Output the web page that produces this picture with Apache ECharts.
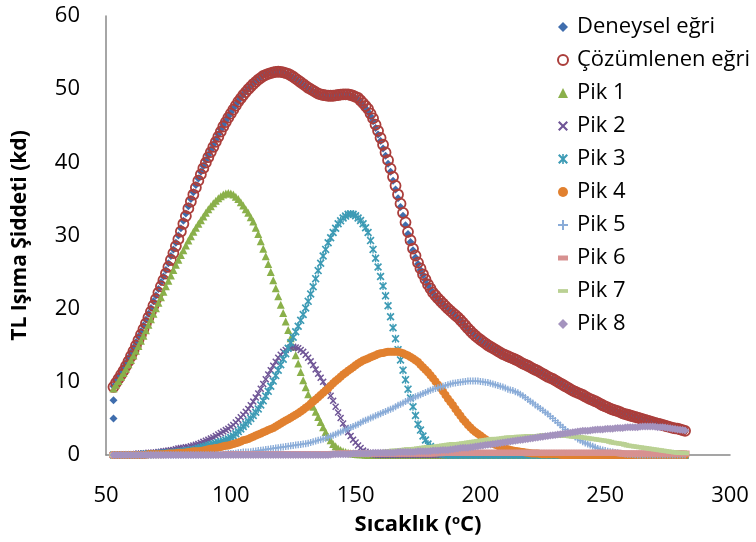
<!DOCTYPE html>
<html><head><meta charset="utf-8">
<script src="https://cdn.jsdelivr.net/npm/echarts@6/dist/echarts.min.js"></script>
<style>html,body{margin:0;padding:0;background:#fff}#c{width:756px;height:542px}</style>
</head><body><div id="c"></div>
<script>
const T = [53,54,55,56,57,58,59,60,61,62,
63,64,65,66,67,68,69,70,71,72,
73,74,75,76,77,78,79,80,81,82,
83,84,85,86,87,88,89,90,91,92,
93,94,95,96,97,98,99,100,101,102,
103,104,105,106,107,108,109,110,111,112,
113,114,115,116,117,118,119,120,121,122,
123,124,125,126,127,128,129,130,131,132,
133,134,135,136,137,138,139,140,141,142,
143,144,145,146,147,148,149,150,151,152,
153,154,155,156,157,158,159,160,161,162,
163,164,165,166,167,168,169,170,171,172,
173,174,175,176,177,178,179,180,181,182,
183,184,185,186,187,188,189,190,191,192,
193,194,195,196,197,198,199,200,201,202,
203,204,205,206,207,208,209,210,211,212,
213,214,215,216,217,218,219,220,221,222,
223,224,225,226,227,228,229,230,231,232,
233,234,235,236,237,238,239,240,241,242,
243,244,245,246,247,248,249,250,251,252,
253,254,255,256,257,258,259,260,261,262,
263,264,265,266,267,268,269,270,271,272,
273,274,275,276,277,278,279,280,281,282];

const expExtraT = [53, 53];
const expExtraV = [5.0, 7.5];

const expV = [9.4,10.2,10.8,11.4,12.0,12.6,13.3,14.0,14.7,15.4,
16.2,16.9,17.7,18.5,19.3,20.1,21.0,21.8,22.7,23.6,
24.4,25.3,26.2,27.2,28.1,29.0,30.0,31.0,32.0,33.0,
34.0,35.0,35.9,36.9,37.8,38.7,39.5,40.3,41.0,41.7,
42.4,43.1,43.8,44.5,45.1,45.7,46.3,46.8,47.4,47.9,
48.4,48.9,49.3,49.7,50.1,50.4,50.8,51.1,51.4,51.6,
51.9,52.0,52.2,52.2,52.3,52.3,52.3,52.3,52.2,52.1,
52.0,51.8,51.6,51.4,51.1,50.9,50.6,50.4,50.1,49.9,
49.7,49.5,49.4,49.2,49.2,49.1,49.0,49.0,49.0,49.1,
49.1,49.2,49.2,49.2,49.2,49.1,49.0,48.8,48.6,48.2,
47.8,47.4,46.9,46.3,45.6,44.7,43.8,42.9,41.9,40.9,
39.8,38.7,37.5,36.3,35.1,33.9,32.7,31.4,30.2,29.1,
28.0,27.0,26.1,25.3,24.6,23.9,23.2,22.6,22.1,21.7,
21.3,21.0,20.6,20.3,20.0,19.7,19.4,19.0,18.7,18.4,
18.0,17.6,17.2,16.9,16.6,16.3,16.0,15.7,15.4,15.2,
15.0,14.8,14.6,14.4,14.2,14.0,13.8,13.6,13.4,13.3,
13.1,13.0,12.8,12.7,12.5,12.3,12.1,12.0,11.8,11.6,
11.4,11.3,11.1,10.9,10.7,10.5,10.3,10.2,10.0,9.8,
9.6,9.4,9.2,9.0,8.8,8.6,8.5,8.3,8.1,8.0,
7.8,7.6,7.5,7.3,7.1,7.0,6.8,6.6,6.5,6.3,
6.2,6.1,5.9,5.8,5.7,5.6,5.5,5.4,5.3,5.2,
5.1,5.0,4.9,4.8,4.7,4.6,4.5,4.4,4.3,4.2,
4.1,4.0,3.9,3.8,3.7,3.6,3.5,3.5,3.4,3.3];

const fitV = [9.3,9.85,10.4,10.95,11.5,12.15,12.8,13.5,14.2,14.95,
15.7,16.45,17.2,18.0,18.8,19.6,20.4,21.3,22.2,23.05,
23.9,24.8,25.7,26.65,27.6,28.55,29.5,30.55,31.6,32.65,
33.7,34.65,35.6,36.55,37.5,38.35,39.2,39.95,40.7,41.4,
42.1,42.8,43.5,44.2,44.9,45.5,46.1,46.65,47.2,47.75,
48.3,48.75,49.2,49.6,50.0,50.35,50.7,51.0,51.3,51.55,
51.8,51.95,52.1,52.2,52.3,52.35,52.4,52.35,52.3,52.2,
52.1,51.9,51.7,51.45,51.2,50.95,50.7,50.45,50.2,50.0,
49.8,49.6,49.4,49.3,49.2,49.15,49.1,49.1,49.1,49.15,
49.2,49.25,49.3,49.3,49.3,49.2,49.1,48.95,48.8,48.45,
48.1,47.7,47.3,46.65,46.0,45.15,44.3,43.35,42.4,41.35,
40.3,39.15,38.0,36.8,35.6,34.35,33.1,31.8,30.5,29.35,
28.2,27.25,26.3,25.5,24.7,24.0,23.3,22.75,22.2,21.8,
21.4,21.05,20.7,20.35,20.0,19.7,19.4,19.1,18.8,18.45,
18.1,17.7,17.3,16.95,16.6,16.3,16.0,15.75,15.5,15.25,
15.0,14.8,14.6,14.4,14.2,14.0,13.8,13.65,13.5,13.35,
13.2,13.05,12.9,12.7,12.5,12.35,12.2,12.0,11.8,11.65,
11.5,11.3,11.1,10.9,10.7,10.55,10.4,10.2,10.0,9.8,
9.6,9.4,9.2,9.0,8.8,8.65,8.5,8.35,8.2,8.0,
7.8,7.65,7.5,7.35,7.2,7.0,6.8,6.65,6.5,6.35,
6.2,6.1,6.0,5.85,5.7,5.6,5.5,5.4,5.3,5.2,
5.1,5.0,4.9,4.8,4.7,4.6,4.5,4.4,4.3,4.2,
4.1,4.0,3.9,3.8,3.7,3.65,3.6,3.5,3.4,3.3];

const pik1 = [9.1,9.6,10.1,10.65,11.2,11.8,12.4,13.0,13.6,14.25,
14.9,15.6,16.3,17.05,17.8,18.55,19.3,20.05,20.8,21.55,
22.3,23.05,23.8,24.55,25.3,26.0,26.7,27.35,28.0,28.65,
29.3,29.9,30.5,31.05,31.6,32.1,32.6,33.1,33.6,34.0,
34.4,34.75,35.1,35.35,35.6,35.75,35.8,35.75,35.6,35.3,
35.0,34.55,34.1,33.6,33.1,32.5,31.9,31.05,30.2,29.2,
28.2,27.15,26.1,25.0,23.9,22.8,21.7,20.55,19.4,18.25,
17.1,15.95,14.8,13.65,12.5,11.35,10.2,9.25,8.3,7.45,
6.6,5.9,5.2,4.5,3.8,3.15,2.5,2.0,1.5,1.2,
0.9,0.7,0.5,0.4,0.3,0.25,0.2,0.15,0.1,0.1,
0.1,0.05,0,0,0,0,0,0,0,0,
0,0,0,0,0,0,0,0,0,0,
0,0,0,0,0,0,0,0,0,0,
0,0,0,0,0,0,0,0,0,0,
0,0,0,0,0,0,0,0,0,0,
0,0,0,0,0,0,0,0,0,0,
0,0,0,0,0,0,0,0,0,0,
0,0,0,0,0,0,0,0,0,0,
0,0,0,0,0,0,0,0,0,0,
0,0,0,0,0,0,0,0,0,0,
0,0,0,0,0,0,0,0,0,0,
0,0,0,0,0,0,0,0,0,0,
0,0,0,0,0,0,0,0,0,0];

const pik2 = [0,0,0,0.05,0.1,0.1,0.1,0.1,0.1,0.15,
0.2,0.2,0.2,0.25,0.3,0.3,0.3,0.35,0.4,0.45,
0.5,0.55,0.6,0.65,0.7,0.8,0.9,0.95,1.0,1.05,
1.1,1.2,1.3,1.4,1.5,1.65,1.8,1.95,2.1,2.25,
2.4,2.6,2.8,3.0,3.2,3.4,3.6,3.85,4.1,4.45,
4.8,5.15,5.5,5.9,6.3,6.8,7.3,7.85,8.4,9.05,
9.7,10.35,11.0,11.6,12.2,12.75,13.3,13.7,14.1,14.35,
14.6,14.7,14.8,14.7,14.6,14.35,14.1,13.7,13.3,12.8,
12.3,11.7,11.1,10.55,10.0,9.4,8.8,8.1,7.4,6.6,
5.8,5.05,4.3,3.7,3.1,2.6,2.1,1.7,1.3,0.95,
0.6,0.45,0.3,0.2,0.1,0.05,0,0,0,0,
0,0,0,0,0,0,0,0,0,0,
0,0,0,0,0,0,0,0,0,0,
0,0,0,0,0,0,0,0,0,0,
0,0,0,0,0,0,0,0,0,0,
0,0,0,0,0,0,0,0,0,0,
0,0,0,0,0,0,0,0,0,0,
0,0,0,0,0,0,0,0,0,0,
0,0,0,0,0,0,0,0,0,0,
0,0,0,0,0,0,0,0,0,0,
0,0,0,0,0,0,0,0,0,0,
0,0,0,0,0,0,0,0,0,0,
0,0,0,0,0,0,0,0,0,0];

const pik3 = [0,0,0,0,0,0,0,0,0,0,
0,0.05,0.1,0.1,0.1,0.1,0.1,0.15,0.2,0.2,
0.2,0.25,0.3,0.3,0.3,0.35,0.4,0.45,0.5,0.55,
0.6,0.65,0.7,0.8,0.9,1.0,1.1,1.2,1.3,1.4,
1.5,1.6,1.7,1.8,1.9,2.05,2.2,2.4,2.6,2.9,
3.2,3.55,3.9,4.25,4.6,5.0,5.4,5.85,6.3,6.85,
7.4,8.05,8.7,9.4,10.1,10.85,11.6,12.35,13.1,13.85,
14.6,15.35,16.1,16.85,17.6,18.4,19.2,20.1,21.0,22.0,
23.0,24.1,25.2,26.2,27.2,28.1,29.0,29.7,30.4,31.0,
31.6,32.0,32.4,32.65,32.9,32.95,32.9,32.7,32.4,32.05,
31.6,31.05,30.4,29.3,28.1,26.9,25.7,24.4,23.1,21.75,
20.4,18.9,17.4,15.9,14.4,13.0,11.6,10.3,9.0,7.8,
6.6,5.4,4.2,3.4,2.6,2.05,1.5,1.15,0.8,0.55,
0.3,0.2,0.1,0.05,0,0,0,0,0,0,
0,0,0,0,0,0,0,0,0,0,
0,0,0,0,0,0,0,0,0,0,
0,0,0,0,0,0,0,0,0,0,
0,0,0,0,0,0,0,0,0,0,
0,0,0,0,0,0,0,0,0,0,
0,0,0,0,0,0,0,0,0,0,
0,0,0,0,0,0,0,0,0,0,
0,0,0,0,0,0,0,0,0,0,
0,0,0,0,0,0,0,0,0,0];

const pik4 = [0,0,0,0,0,0,0,0,0,0,
0,0,0,0.05,0.1,0.1,0.1,0.1,0.1,0.1,
0.1,0.15,0.2,0.2,0.2,0.25,0.3,0.3,0.3,0.35,
0.4,0.45,0.5,0.5,0.5,0.55,0.6,0.7,0.8,0.85,
0.9,0.95,1.0,1.1,1.2,1.25,1.3,1.4,1.5,1.6,
1.7,1.85,2.0,2.1,2.2,2.35,2.5,2.65,2.8,2.95,
3.1,3.25,3.4,3.55,3.7,3.9,4.1,4.3,4.5,4.7,
4.9,5.1,5.3,5.5,5.7,5.95,6.2,6.45,6.7,7.0,
7.3,7.6,7.9,8.2,8.5,8.8,9.1,9.45,9.8,10.1,
10.4,10.7,11.0,11.25,11.5,11.75,12.0,12.25,12.5,12.7,
12.9,13.05,13.2,13.35,13.5,13.65,13.8,13.9,13.95,14.05,
14.1,14.1,14.1,14.1,14.1,14.0,13.9,13.75,13.6,13.4,
13.2,12.95,12.7,12.35,12.0,11.65,11.3,10.9,10.5,10.05,
9.6,9.15,8.7,8.2,7.7,7.25,6.8,6.3,5.8,5.35,
4.9,4.5,4.1,3.75,3.4,3.15,2.9,2.65,2.4,2.15,
1.95,1.75,1.55,1.4,1.25,1.1,1.0,0.9,0.8,0.7,
0.6,0.55,0.5,0.45,0.4,0.35,0.3,0.25,0.2,0.2,
0.2,0.15,0.1,0.1,0.1,0.1,0.1,0.1,0.1,0.05,
0,0,0,0,0,0,0,0,0,0,
0,0,0,0,0,0,0,0,0,0,
0,0,0,0,0,0,0,0,0,0,
0,0,0,0,0,0,0,0,0,0,
0,0,0,0,0,0,0,0,0,0];

const pik5 = [0,0,0,0,0,0,0,0,0,0,
0,0,0,0,0,0,0,0,0,0,
0,0,0,0,0,0,0,0,0,0,
0,0,0,0,0,0,0,0,0,0,
0,0,0,0.05,0.1,0.15,0.2,0.2,0.2,0.25,
0.3,0.35,0.4,0.4,0.4,0.45,0.5,0.55,0.6,0.65,
0.7,0.75,0.8,0.85,0.9,0.95,1.0,1.05,1.1,1.15,
1.2,1.25,1.3,1.35,1.4,1.45,1.5,1.55,1.6,1.7,
1.8,1.9,2.0,2.1,2.2,2.3,2.4,2.55,2.7,2.85,
3.0,3.15,3.3,3.45,3.6,3.75,3.9,4.05,4.2,4.4,
4.6,4.75,4.9,5.05,5.2,5.35,5.5,5.65,5.8,5.95,
6.1,6.25,6.4,6.6,6.8,6.95,7.1,7.3,7.5,7.65,
7.8,7.95,8.1,8.25,8.4,8.55,8.7,8.85,9.0,9.1,
9.2,9.3,9.4,9.5,9.6,9.7,9.8,9.85,9.9,9.95,
10.0,10.05,10.1,10.1,10.1,10.1,10.1,10.05,10.0,9.95,
9.9,9.8,9.7,9.6,9.5,9.4,9.3,9.15,9.0,8.9,
8.8,8.65,8.5,8.3,8.1,7.85,7.6,7.35,7.1,6.85,
6.6,6.35,6.1,5.85,5.6,5.3,5.0,4.7,4.4,4.1,
3.8,3.5,3.2,2.95,2.7,2.45,2.2,2.0,1.8,1.65,
1.5,1.35,1.2,1.05,0.9,0.8,0.7,0.6,0.5,0.45,
0.4,0.35,0.3,0.25,0.2,0.15,0.1,0.1,0.1,0.05,
0,0,0,0,0,0,0,0,0,0,
0,0,0,0,0,0,0,0,0,0];

const pik6 = [0,0,0,0,0,0,0,0,0,0,
0,0,0,0,0,0,0,0,0,0,
0,0,0,0,0,0,0,0,0,0,
0,0,0,0,0,0,0,0,0,0,
0,0,0,0,0,0.1,0.1,0.1,0.1,0.1,
0.1,0.1,0.1,0.1,0.1,0.1,0.1,0.1,0.1,0.1,
0.1,0.1,0.1,0.1,0.1,0.1,0.1,0.1,0.1,0.1,
0.1,0.1,0.1,0.1,0.1,0.1,0.1,0.1,0.1,0.1,
0.1,0.1,0.1,0.1,0.1,0.1,0.1,0.1,0.15,0.15,
0.2,0.2,0.2,0.2,0.2,0.2,0.2,0.2,0.2,0.2,
0.2,0.2,0.2,0.2,0.2,0.2,0.2,0.2,0.2,0.2,
0.2,0.2,0.2,0.2,0.2,0.2,0.2,0.2,0.2,0.2,
0.2,0.2,0.2,0.2,0.2,0.2,0.2,0.2,0.2,0.25,
0.25,0.25,0.3,0.3,0.3,0.3,0.3,0.3,0.3,0.3,
0.3,0.3,0.3,0.3,0.3,0.3,0.3,0.3,0.3,0.3,
0.3,0.3,0.3,0.3,0.3,0.3,0.3,0.3,0.3,0.3,
0.3,0.3,0.3,0.3,0.3,0.3,0.3,0.3,0.3,0.3,
0.3,0.3,0.3,0.3,0.3,0.3,0.3,0.3,0.3,0.3,
0.3,0.3,0.3,0.3,0.3,0.3,0.3,0.3,0.3,0.3,
0.3,0.3,0.3,0.3,0.3,0.3,0.3,0.3,0.3,0.3,
0.3,0.3,0.3,0.25,0.2,0.2,0.2,0.2,0.2,0.2,
0.2,0.2,0.2,0.2,0.2,0.2,0.2,0.2,0.2,0.2,
0.2,0.2,0.2,0.2,0.2,0.2,0.2,0.2,0.2,0.2];

const pik7 = [0,0,0,0,0,0,0,0,0,0,
0,0,0,0,0,0,0,0,0,0,
0,0,0,0,0,0,0,0,0,0,
0,0,0,0,0,0,0,0,0,0,
0,0,0,0,0,0,0,0,0,0,
0,0,0,0,0,0,0,0,0,0,
0,0,0,0,0,0,0,0,0,0,
0,0,0,0,0,0,0,0,0,0,
0,0,0,0,0,0,0,0,0,0,
0,0,0,0.05,0.1,0.1,0.1,0.15,0.2,0.2,
0.2,0.25,0.3,0.3,0.3,0.35,0.4,0.4,0.4,0.45,
0.5,0.55,0.6,0.6,0.6,0.65,0.7,0.75,0.8,0.8,
0.8,0.85,0.9,0.95,1.0,1.05,1.1,1.1,1.1,1.15,
1.2,1.25,1.3,1.35,1.4,1.45,1.5,1.5,1.5,1.55,
1.6,1.65,1.7,1.75,1.8,1.85,1.9,1.95,2.0,2.05,
2.1,2.15,2.2,2.2,2.2,2.25,2.3,2.35,2.4,2.4,
2.4,2.45,2.5,2.5,2.5,2.55,2.6,2.6,2.6,2.6,
2.6,2.65,2.7,2.7,2.7,2.7,2.7,2.7,2.7,2.65,
2.6,2.6,2.6,2.55,2.5,2.5,2.5,2.45,2.4,2.35,
2.3,2.25,2.2,2.15,2.1,2.05,2.0,1.95,1.9,1.8,
1.7,1.65,1.6,1.55,1.5,1.4,1.3,1.25,1.2,1.15,
1.1,1.05,1.0,0.95,0.9,0.85,0.8,0.75,0.7,0.65,
0.6,0.55,0.5,0.45,0.4,0.35,0.3,0.3,0.3,0.25];

const pik8 = [0,0,0,0,0,0,0,0,0,0,
0,0,0,0,0,0,0,0,0,0,
0,0,0,0,0,0,0,0,0,0,
0,0,0,0,0,0,0,0,0,0,
0,0,0,0,0,0,0,0,0,0,
0,0,0,0,0,0,0,0,0,0,
0,0,0,0,0,0,0,0,0,0,
0,0,0,0,0,0,0,0,0,0,
0,0,0,0,0,0,0,0.05,0.1,0.1,
0.1,0.1,0.1,0.1,0.1,0.15,0.2,0.2,0.2,0.2,
0.2,0.2,0.2,0.25,0.3,0.3,0.3,0.3,0.3,0.3,
0.3,0.3,0.3,0.35,0.4,0.4,0.4,0.4,0.4,0.4,
0.4,0.45,0.5,0.5,0.5,0.5,0.5,0.55,0.6,0.6,
0.6,0.65,0.7,0.7,0.7,0.75,0.8,0.85,0.9,0.95,
1.0,1.0,1.0,1.05,1.1,1.15,1.2,1.25,1.3,1.35,
1.4,1.45,1.5,1.55,1.6,1.65,1.7,1.75,1.8,1.85,
1.9,1.95,2.0,2.05,2.1,2.15,2.2,2.25,2.3,2.35,
2.4,2.45,2.5,2.55,2.6,2.65,2.7,2.75,2.8,2.85,
2.9,2.95,3.0,3.05,3.1,3.15,3.2,3.25,3.3,3.3,
3.3,3.35,3.4,3.45,3.5,3.5,3.5,3.55,3.6,3.6,
3.6,3.65,3.7,3.7,3.7,3.75,3.8,3.8,3.8,3.8,
3.8,3.85,3.9,3.9,3.9,3.9,3.9,3.85,3.8,3.8,
3.8,3.75,3.7,3.65,3.6,3.55,3.5,3.45,3.4,3.35];

const seriesNames = ['Deneysel eğri','Çözümlenen eğri','Pik 1','Pik 2','Pik 3','Pik 4','Pik 5','Pik 6','Pik 7','Pik 8'];

function pairs(vals) { return T.map((t, i) => [t, vals[i]]); }
const expData = expExtraT.map((t, i) => [t, expExtraV[i]]).concat(pairs(expV));

const X_PATH = 'path://M0,1.5L1.5,0L5,3.5L8.5,0L10,1.5L6.5,5L10,8.5L8.5,10L5,6.5L1.5,10L0,8.5L3.5,5Z';
const STAR_PATH = 'path://M0,1.5L1.5,0L5,3.5L8.5,0L10,1.5L6.5,5L10,8.5L8.5,10L5,6.5L1.5,10L0,8.5L3.5,5Z M4.2,0L5.8,0L5.8,10L4.2,10Z';
const PLUS_PATH = 'path://M4,0L6,0L6,4L10,4L10,6L6,6L6,10L4,10L4,6L0,6L0,4L4,4Z';
const DASH6_PATH = 'path://M0,0L10,0L10,5L0,5Z';
const DASH7_PATH = 'path://M0,0L8,0L8,3L0,3Z';

function sc(name, data, symbol, size, color, extra) {
  return Object.assign({
    name: name, type: 'scatter', data: data,
    symbol: symbol, symbolSize: size,
    itemStyle: { color: color, opacity: 1 },
    emphasis: { disabled: true },
    silent: true, animation: false, large: false
  }, extra || {});
}

const chart = echarts.init(document.getElementById('c'), null, { renderer: 'canvas' });
const FONT = 'Open Sans';
chart.setOption({
  animation: false,
  backgroundColor: '#fff',
  textStyle: { fontFamily: FONT },
  grid: { left: 106, right: 26, top: 16, bottom: 87, containLabel: false, outerBoundsMode: 'none' },
  legend: {
    orient: 'vertical', left: 552, top: 10,
    itemWidth: 10, itemHeight: 10, itemGap: 9,
    selectedMode: false,
    textStyle: { fontFamily: FONT, fontSize: 22, color: '#000', lineHeight: 24, padding: [0, 0, 0, 4] },
    data: [
      { name: seriesNames[0] },
      { name: seriesNames[1] },
      { name: seriesNames[2] },
      { name: seriesNames[3] },
      { name: seriesNames[4] },
      { name: seriesNames[5] },
      { name: seriesNames[6] },
      { name: seriesNames[7], icon: DASH6_PATH },
      { name: seriesNames[8], icon: DASH7_PATH },
      { name: seriesNames[9] }
    ]
  },
  xAxis: {
    type: 'value', min: 50, max: 300, interval: 50,
    name: '{n|Sıcaklık (}{s|o}{n|C)}',
    nameLocation: 'middle', nameGap: 55,
    nameTextStyle: {
      rich: {
        n: { fontFamily: FONT, fontSize: 22, fontWeight: 'bold', color: '#000', lineHeight: 26 },
        s: { fontFamily: FONT, fontSize: 13, fontWeight: 'bold', color: '#000', lineHeight: 26, verticalAlign: 'top', padding: [2, 0, 0, 0] }
      }
    },
    axisLine: { show: true, onZero: false, lineStyle: { color: '#888', width: 1.5 } },
    axisTick: { show: false },
    splitLine: { show: false },
    axisLabel: { fontFamily: FONT, fontSize: 22, color: '#000', margin: 30 }
  },
  yAxis: {
    type: 'value', min: 0, max: 60, interval: 10,
    name: 'TL Işıma Şiddeti (kd)',
    nameLocation: 'middle', nameGap: 75, nameRotate: 90,
    nameTextStyle: { fontFamily: FONT, fontSize: 21, fontWeight: 'bold', color: '#000' },
    axisLine: { show: true, lineStyle: { color: '#888', width: 1.5 } },
    axisTick: { show: false },
    splitLine: { show: false },
    axisLabel: { fontFamily: FONT, fontSize: 22, color: '#000', margin: 26 }
  },
  series: [
    sc(seriesNames[0], expData, 'diamond', 8, '#3F6DAD'),
    sc(seriesNames[1], pairs(fitV), 'circle', 10, 'rgba(0,0,0,0)', {
      itemStyle: { color: 'rgba(0,0,0,0)', borderColor: '#AB3E3B', borderWidth: 1.8, opacity: 1 }
    }),
    sc(seriesNames[2], pairs(pik1), 'triangle', 8, '#8AB04A'),
    sc(seriesNames[3], pairs(pik2), X_PATH, 7, '#6F5596'),
    sc(seriesNames[4], pairs(pik3), STAR_PATH, 8, '#3D9BB5'),
    sc(seriesNames[5], pairs(pik4), 'circle', 8, '#E1802F'),
    sc(seriesNames[6], pairs(pik5), PLUS_PATH, 7, '#8AACD8'),
    sc(seriesNames[7], pairs(pik6), 'rect', [9, 6], '#D79190'),
    sc(seriesNames[8], pairs(pik7), 'rect', [8, 4], '#BAD193'),
    sc(seriesNames[9], pairs(pik8), 'diamond', 8, '#A493BE')
  ]
});
</script>
</body></html>
